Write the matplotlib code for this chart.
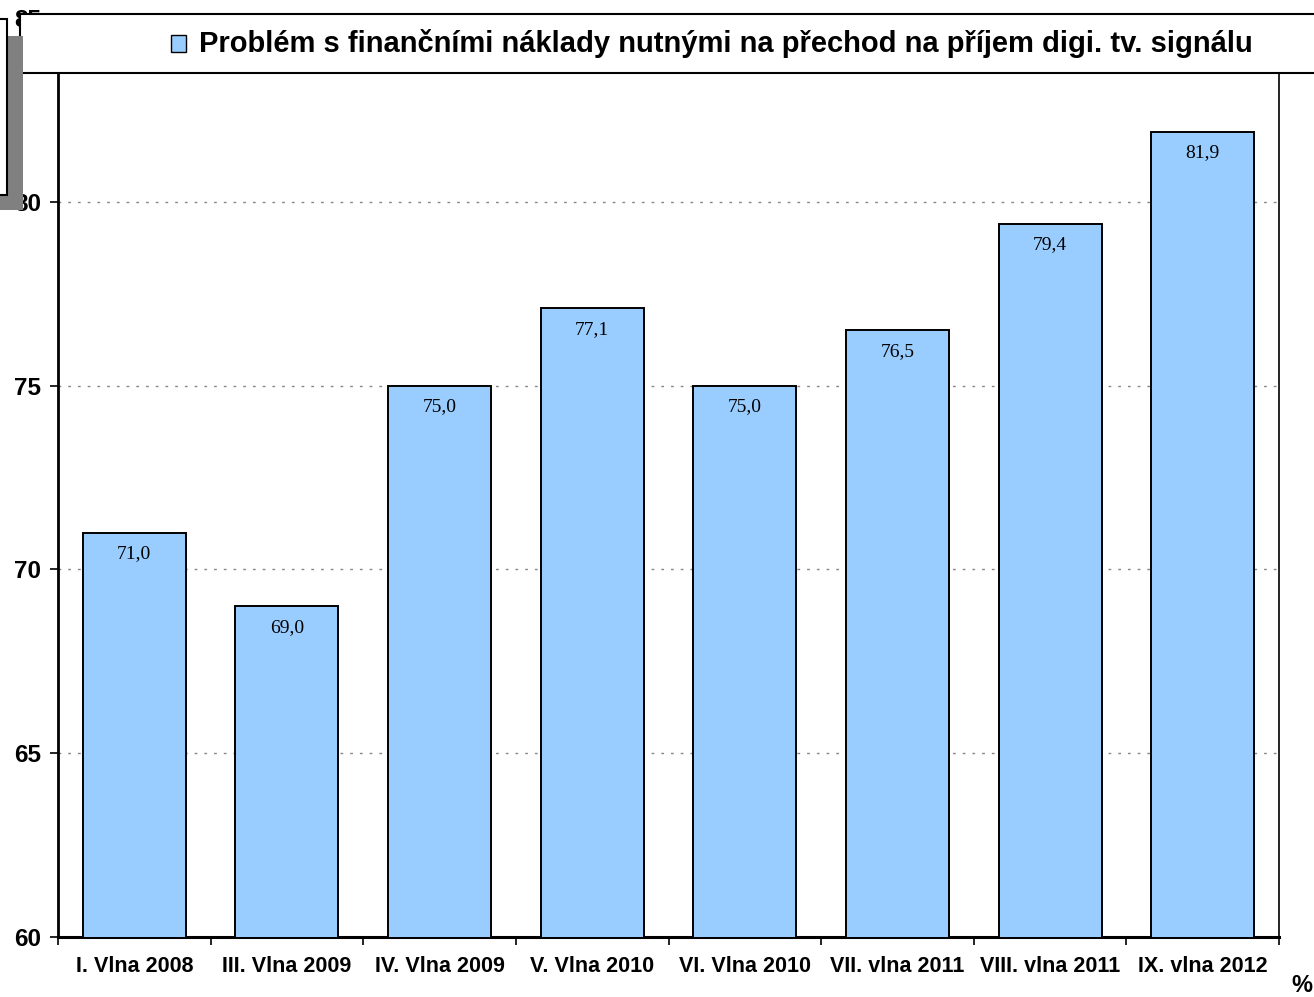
import matplotlib.pyplot as plt
from matplotlib.patches import Rectangle

plt.rcParams['font.family'] = ['Liberation Sans', 'DejaVu Sans']

# data
waves = ['I. Vlna 2008', 'III. Vlna 2009', 'IV. Vlna 2009', 'V. Vlna 2010',
         'VI. Vlna 2010', 'VII. vlna 2011', 'VIII. vlna 2011', 'IX. vlna 2012']
values = [71.0, 69.0, 75.0, 77.1, 75.0, 76.5, 79.4, 81.9]
yticks = [60, 65, 70, 75, 80, 85]
series_name = 'Problém s finančními náklady nutnými na přechod na příjem digi. tv. signálu'

W, H = 1314, 997
fig = plt.figure(figsize=(W / 100, H / 100), dpi=100)
ax = fig.add_axes([58 / W, (H - 937) / H, (1279 - 58) / W, (937 - 18) / H])

x = list(range(len(waves)))
ax.bar(x, values, width=0.675, color='#99CCFF', edgecolor='black',
       linewidth=1.4, zorder=3)
for xi, v in zip(x, values):
    ax.annotate(f'{v:.1f}'.replace('.', ','), (xi, v), xytext=(0, -21),
                textcoords='offset pixels', ha='center', va='center',
                fontsize=14, family='Liberation Serif', zorder=4)

ax.set_xlim(-0.5, len(waves) - 0.5)
ax.set_ylim(60, 85)
ax.set_yticks(yticks)
ax.set_yticklabels([str(t) for t in yticks], fontsize=17.5, fontweight='bold')
ax.tick_params(axis='y', length=6, width=1.2, pad=6)

ax.set_xticks(x)
ax.set_xticklabels(waves, fontsize=15.5, fontweight='bold')
ax.set_xticks([i - 0.5 for i in range(len(waves) + 1)], minor=True)
ax.tick_params(axis='x', which='major', length=0, pad=14)
ax.tick_params(axis='x', which='minor', length=6, width=1.2)

ax.grid(axis='y', linestyle=(0, (2, 5)), color='#888888', linewidth=1, zorder=0)
for s in ax.spines.values():
    s.set_linewidth(1.2)
ax.spines['left'].set_linewidth(2)
ax.spines['bottom'].set_linewidth(2.2)

# legend box lying over the top of the plot
fig.patches.append(Rectangle((20 / W, (H - 73) / H), 1320 / W, 59 / H,
                             transform=fig.transFigure, facecolor='white',
                             edgecolor='black', linewidth=1.5, zorder=5))
fig.patches.append(Rectangle((171 / W, (H - 52) / H), 15 / W, 17 / H,
                             transform=fig.transFigure, facecolor='#99CCFF',
                             edgecolor='black', linewidth=1, zorder=6))
fig.text(199 / W, (H - 44) / H, series_name, fontsize=21, fontweight='bold',
         va='center', ha='left', zorder=7)

# the small box with shadow at the left edge
fig.patches.append(Rectangle((0, (H - 210) / H), 23 / W, 174 / H,
                             transform=fig.transFigure, facecolor='#808080',
                             edgecolor='none', zorder=8))
fig.patches.append(Rectangle((-5 / W, (H - 195) / H), 12 / W, 176 / H,
                             transform=fig.transFigure, facecolor='white',
                             edgecolor='black', linewidth=1.5, zorder=9))

fig.text(1302 / W, (H - 985) / H, '%', fontsize=17, fontweight='bold',
         ha='center', va='center')

fig.savefig('out.png', dpi=100)
